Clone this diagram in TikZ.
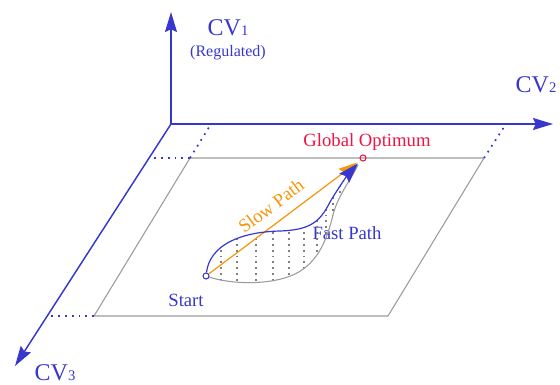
\documentclass[tikz,border=0pt]{standalone}
\usepackage{fontspec}
\setmainfont{Liberation Serif}
\usetikzlibrary{arrows.meta}
\definecolor{cvblue}{RGB}{55,55,205}
\definecolor{optred}{RGB}{240,20,70}
\definecolor{sloworange}{RGB}{245,150,10}
\definecolor{planegray}{RGB}{155,155,155}

\begin{document}
\begin{tikzpicture}[x=0.75pt, y=-0.75pt,
    axis/.style={draw=cvblue, line width=1.1pt,
      -{Stealth[length=15pt, width=9pt, inset=2pt]}},
    guide/.style={cvblue, line width=1.3pt, dash pattern=on 1.3pt off 3.8pt},
    plane/.style={draw=planegray, line width=0.8pt},
    vdot/.style={gray, line width=1.4pt, dash pattern=on 1.4pt off 3pt},
    cvlabel/.style={text=cvblue, font=\fontsize{18}{20}\selectfont, anchor=base},
    lbl/.style={font=\fontsize{14}{16}\selectfont, anchor=base},
    pt/.style={circle, draw, line width=0.8pt, inner sep=0pt, minimum size=4.5pt}]
  \useasboundingbox (0,0) rectangle (560,385);
  % axes
  \coordinate (O) at (171,124);
  \coordinate (tip1) at (171,12);
  \coordinate (tip2) at (553,124);
  \coordinate (tip3) at (15,366);
  \draw[axis] (O) -- (tip1);
  \draw[axis] (O) -- (tip2);
  \draw[axis] (O) -- (tip3);
  \node[cvlabel] (cv1) at (228,36) {CV{\fontsize{11}{12}\selectfont 1}};
  \node[cvlabel, font=\fontsize{12}{14}\selectfont] (reg) at (228,57) {(Regulated)};
  \node[cvlabel] (cv2) at (536,93) {CV{\fontsize{11}{12}\selectfont 2}};
  \node[cvlabel] (cv3) at (55,380) {CV{\fontsize{11}{12}\selectfont 3}};
  % plane and its projections
  \coordinate (p1) at (190,158);
  \coordinate (p2) at (484,158);
  \coordinate (p3) at (388,316);
  \coordinate (p4) at (94,316);
  \coordinate (a2) at (211,124);
  \coordinate (a3) at (150,158);
  \coordinate (b2) at (506,124);
  \coordinate (c3) at (51,316);
  \draw[plane] (p1) -- (p2) -- (p3) -- (p4) -- cycle;
  \foreach \u/\v in {p1/a2, p1/a3, p2/b2, p4/c3}
    \draw[guide] (\u) -- (\v);
  % start and optimum
  \node[pt, draw=cvblue] (s) at (206,276) {};
  \node[pt, draw=optred] (g) at (363,158) {};
  \node[lbl, text=optred] (gl) at (367,146) {Global Optimum};
  \node[lbl, text=cvblue] (sl) at (186,306) {Start};
  \node[lbl, text=cvblue] (fl) at (347,239) {Fast Path};
  \node[lbl, text=sloworange, anchor=center, rotate=36.9] (slow) at (271,206) {Slow Path};
  % region between the two paths
  \begin{scope}
    \clip (206,276) .. controls (210,245) and (240,232) .. (280,231)
      .. controls (310,230) and (320,222) .. (330,202)
      .. controls (340,185) and (350,172) .. (358,162)
      -- (360,164) .. controls (352,178) and (338,195) .. (333,215)
      .. controls (328,235) and (320,262) .. (295,274)
      .. controls (270,286) and (230,284) .. (206,277) -- cycle;
    \foreach \x in {221,237,256,273,289,304,317,326,333,340}
      \draw[vdot] (\x,150) -- (\x,290);
  \end{scope}
  \draw[planegray, line width=0.8pt] (s) .. controls (230,284) and (270,286) .. (295,274)
    .. controls (320,262) and (328,235) .. (333,215)
    .. controls (338,195) and (352,178) .. (358,165);
  % paths
  \draw[sloworange, line width=0.9pt, shorten >=3pt,
      -{Stealth[length=14pt, width=9pt, inset=2pt]}] (s) -- (g);
  \draw[cvblue, line width=0.9pt, shorten >=3pt,
      -{Stealth[length=15pt, width=10pt, inset=2pt]}] (s)
    .. controls (210,245) and (240,232) .. (280,231)
    .. controls (310,230) and (320,222) .. (330,202)
    .. controls (340,185) and (350,172) .. (g);
\end{tikzpicture}
\end{document}
